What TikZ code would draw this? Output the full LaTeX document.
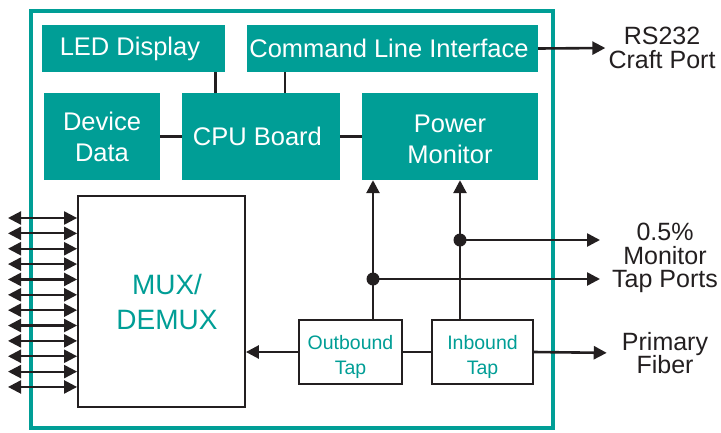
\documentclass[tikz,border=0pt]{standalone}
\usepackage{fontspec}
\setmainfont{Liberation Sans}
\usepackage{tikz}
\usetikzlibrary{arrows.meta, positioning}
\definecolor{cardteal}{RGB}{0,158,150}
\definecolor{ink}{RGB}{35,31,32}

\begin{document}
\begin{tikzpicture}[x=1pt, y=-1pt, >={Triangle[length=13pt, width=13pt]},
    unit/.style={fill=cardteal, text=white, inner sep=0, align=center, font=\fontsize{25.5}{31}\selectfont},
    tapbox/.style={draw=ink, line width=1.8pt, fill=white, text=cardteal, inner sep=0, align=center, font=\fontsize{19.5}{25}\selectfont},
    port/.style={text=ink, align=center, inner sep=3pt, font=\fontsize{25}{23.5}\selectfont},
    link/.style={draw=ink, line width=2.6pt}]
    \useasboundingbox (0,0) rectangle (721,432);
    \draw[cardteal, line width=4pt] (31,11) rectangle (553,428);

    \node(led)[unit, minimum width=183pt, minimum height=47pt] at (133.5,48.5)
        { LED Display };
    \node(cli)[unit, minimum width=291pt, minimum height=47pt] at (392.5,48.5)
        { Command Line Interface };
    \node(dev-data)[unit, minimum width=116pt, minimum height=87pt] at (102,136.5)
        { Device \\ Data };
    \node(cpu)[unit, minimum width=158pt, minimum height=87pt] at (261,136.5)
        { CPU Board };
    \node(power)[unit, minimum width=176pt, minimum height=87pt] at (450,136.5)
        { \rule{0pt}{24pt}Power \\ Monitor };
    \node(mux)[tapbox, minimum width=167pt, minimum height=211pt, text width=167pt,
        font=\fontsize{28}{35}\selectfont] at (161.5,301.5)
        { \hspace*{11pt}MUX/ \\ \hspace*{11pt}DEMUX };
    \node(outbound)[tapbox, minimum width=103pt, minimum height=64pt] at (350.5,352)
        { \rule{0pt}{24pt}Outbound \\ Tap };
    \node(inbound)[tapbox, minimum width=101pt, minimum height=64pt] at (482.5,352)
        { \rule{0pt}{24pt}Inbound \\ Tap };

    \node(craft)[port] at (662,48) { RS232 \\ Craft Port };
    \node(monitor)[port] at (665,258) { 0.5\% \\ Monitor \\ Tap Ports };
    \node(fiber)[port] at (665,353) { Primary \\ Fiber };

    \coordinate(out-split) at (373,279);
    \coordinate(in-split) at (460,240);
    \coordinate(mon-end) at (600,0);

    \draw[link] ([xshift=-10pt]led.south east) -- ([xshift=-10pt]led.south east |- cpu.north);
    \draw[link] ([xshift=38pt]cli.south west) -- ([xshift=38pt]cli.south west |- cpu.north);
    \draw[link] (dev-data) -- (cpu);
    \draw[link] (cpu) -- (power);
    \draw[link, ->] (cli.east) -- (craft.west);

    \draw[link, ->] (outbound.north -| out-split) -- (out-split |- power.south);
    \draw[link, ->] (inbound.north -| in-split) -- (in-split |- power.south);
    \draw[link, ->] (out-split) -- (out-split -| mon-end);
    \draw[link, ->] (in-split) -- (in-split -| mon-end);
    \fill[ink] (out-split) circle (6.5pt) (in-split) circle (6.5pt);

    \draw[link, ->] (outbound.west) -- (outbound.west -| mux.east);
    \draw[link] (outbound) -- (inbound);
    \draw[link, ->, shorten >=12pt] (inbound.east) -- (fiber.west);

    \foreach \y in {0,...,11}
        \draw[link, line width=2.2pt, <->] (8,218+15.36*\y) -- (mux.west |- 0,218+15.36*\y);
\end{tikzpicture}
\end{document}
